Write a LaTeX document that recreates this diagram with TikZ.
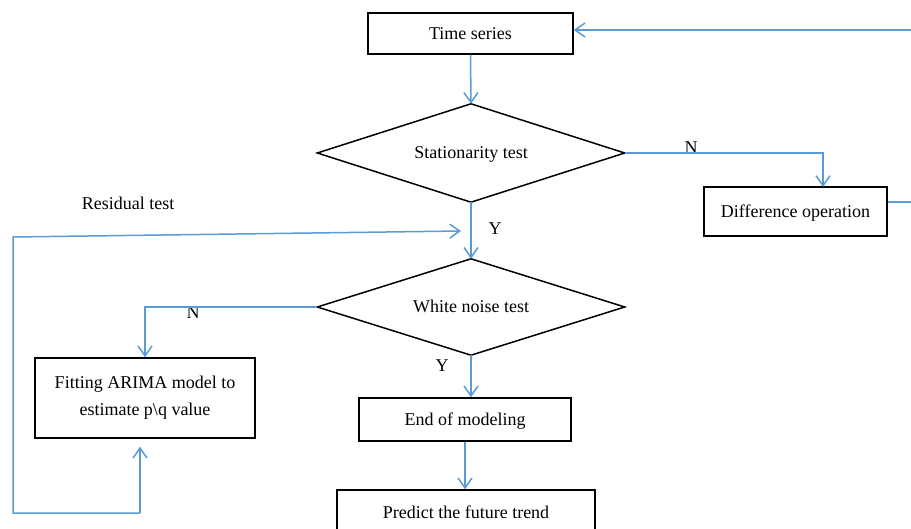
\documentclass[tikz,border=0pt]{standalone}
\usepackage{fontspec}
\setmainfont{Liberation Serif}
\usetikzlibrary{arrows.meta}
\definecolor{lblue}{RGB}{91,155,213}
\begin{document}
\begin{tikzpicture}[x=1pt,y=-1pt,
  every node/.style={font=\fontsize{18}{21}\selectfont},
  box/.style={draw=black,line width=1.5pt,rectangle,inner sep=2pt,text height=15pt,text depth=3pt},
  dia/.style={rectangle,inner sep=0pt,text height=15pt,text depth=3pt},
  diaedge/.style={draw=black,line width=1.5pt,line join=miter},
  conn/.style={draw=lblue,line width=1.5pt},
  arr/.style={conn,-{Straight Barb[length=10pt,width=14pt,line width=1.5pt]}},
  lab/.style={inner sep=0pt}]
\useasboundingbox (0,0) rectangle (911,529);
\clip (0,0) rectangle (911,529);
% nodes
\node[box,minimum width=205,minimum height=41] (ts) at (470.5,33.5) {Time series};
\node[dia,minimum width=307,minimum height=98] (st) at (471,153) {Stationarity test};
\node[box,minimum width=183,minimum height=49] (diff) at (795.5,211.5) {Difference operation};
\node[dia,minimum width=307,minimum height=96] (wn) at (471,307) {White noise test};
\node[draw=black,line width=1.5pt,rectangle,inner sep=2pt,minimum width=220,minimum height=80,
  align=center,font=\fontsize{18}{27}\selectfont] (fit) at (145,398)
  {Fitting ARIMA model to\\estimate p\textbackslash q value};
\node[box,minimum width=212,minimum height=43] (end) at (465,419.5) {End of modeling};
\node[box,minimum width=258,minimum height=44] (pred) at (466,512) {Predict the future trend};
% diamond outlines
\draw[diaedge] (st.north) -- (st.east) -- (st.south) -- (st.west) -- cycle;
\draw[diaedge] (wn.north) -- (wn.east) -- (wn.south) -- (wn.west) -- cycle;
% labels
\node[lab] (lN1) at (691,148) {N};
\node[lab] (lY1) at (495,229) {Y};
\node[lab] (lN2) at (193,313) {N};
\node[lab] (lY2) at (442,366) {Y};
\node[lab] (lres) at (128,203) {Residual test};
% coordinates
\coordinate (rin) at (911,30);
\coordinate (rout) at (911,202);
\coordinate (dtop) at (823,187);
\coordinate (lb0) at (140,513);
\coordinate (lb1) at (13,513);
\coordinate (lb2) at (13,237);
\coordinate (lb3) at (461,231);
% connectors
\draw[arr] (ts.south) -- (st.north);
\draw[arr] (rin) -- (ts.east |- rin);
\draw[arr] (st.east) -| (dtop);
\draw[conn] (diff.east |- rout) -- (rout);
\draw[arr] (st.south) -- (wn.north);
\draw[arr] (wn.south) -- (wn.south |- end.north);
\draw[arr] (end.south) -- (end.south |- pred.north);
\draw[arr] (wn.west) -| (fit.north);
\draw[arr,shorten >=8pt] (lb0) -- (lb0 |- fit.south);
\draw[arr] (lb0) -- (lb1) -- (lb2) -- (lb3);
\end{tikzpicture}
\end{document}
